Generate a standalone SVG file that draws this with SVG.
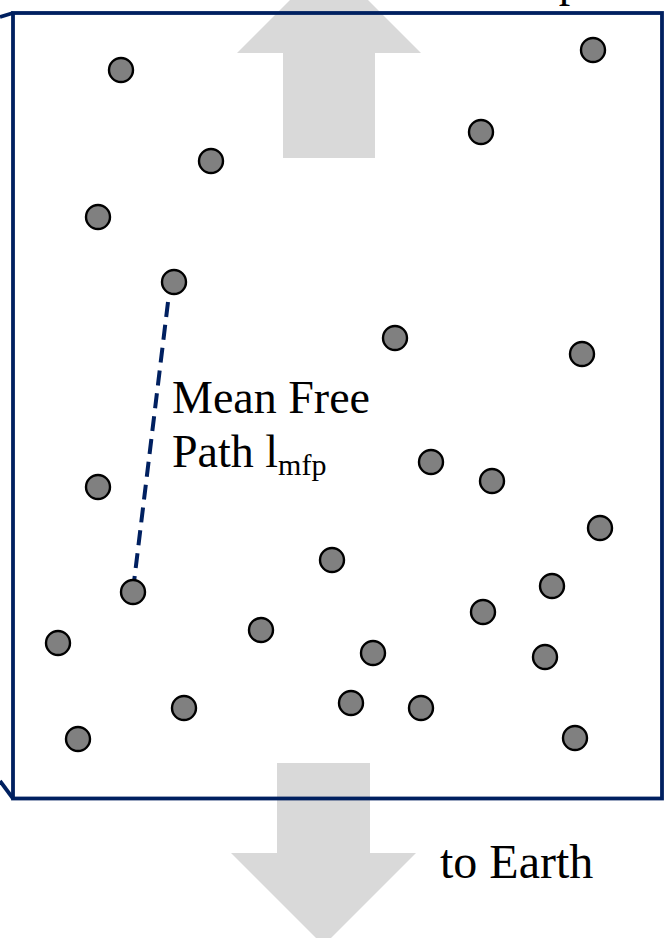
<svg xmlns="http://www.w3.org/2000/svg" width="666" height="938" viewBox="0 0 666 938">
  <style>
    .flow { fill: #d9d9d9; }
    .frame { fill: none; stroke: #002060; stroke-width: 3.8; }
    .mol { fill: #808080; stroke: #000; stroke-width: 2.4; }
    .path { stroke: #002060; stroke-width: 4; stroke-dasharray: 15 8; fill: none; }
    .lbl { font-family: "Liberation Serif", "Times New Roman", serif; font-size: 46px; fill: #000; }
    .sub { font-size: 30px; }
  </style>
  <rect width="666" height="938" fill="#fff"/>

  <!-- flow arrows: upward to space, downward to Earth -->
  <g id="arrow-up">
    <polygon class="flow" points="283,158 375,158 375,53 421,53 329,-39 237,53 283,53"/>
  </g>
  <g id="arrow-down">
    <polygon class="flow" points="277,763 370,763 370,853 416,853 323.5,945.5 231,853 277,853"/>
  </g>

  <!-- gas volume -->
  <g id="volume">
    <rect class="frame" x="13" y="13" width="649" height="785.5"/>
    <line class="frame" x1="0" y1="17" x2="13" y2="13"/>
    <line class="frame" x1="0" y1="781" x2="13" y2="798.5"/>
  </g>

  <!-- free path between two collisions -->
  <g id="connectors">
    <line class="path" x1="168" y1="302" x2="134" y2="582"/>
  </g>

  <!-- molecules -->
  <g id="molecules">
    <circle id="m1" class="mol" cx="121" cy="70" r="12"/>
    <circle id="m2" class="mol" cx="593" cy="50" r="12"/>
    <circle id="m3" class="mol" cx="481" cy="132" r="12"/>
    <circle id="m4" class="mol" cx="211" cy="161" r="12"/>
    <circle id="m5" class="mol" cx="98" cy="217" r="12"/>
    <circle id="m6" class="mol" cx="174" cy="282" r="12"/>
    <circle id="m7" class="mol" cx="395" cy="338" r="12"/>
    <circle id="m8" class="mol" cx="582" cy="354" r="12"/>
    <circle id="m9" class="mol" cx="98" cy="487" r="12"/>
    <circle id="m10" class="mol" cx="431" cy="462" r="12"/>
    <circle id="m11" class="mol" cx="492" cy="481" r="12"/>
    <circle id="m12" class="mol" cx="600" cy="528" r="12"/>
    <circle id="m13" class="mol" cx="332" cy="560" r="12"/>
    <circle id="m14" class="mol" cx="552" cy="586" r="12"/>
    <circle id="m15" class="mol" cx="133" cy="592" r="12"/>
    <circle id="m16" class="mol" cx="483" cy="612" r="12"/>
    <circle id="m17" class="mol" cx="58" cy="643" r="12"/>
    <circle id="m18" class="mol" cx="261" cy="630" r="12"/>
    <circle id="m19" class="mol" cx="373" cy="653" r="12"/>
    <circle id="m20" class="mol" cx="545" cy="657" r="12"/>
    <circle id="m21" class="mol" cx="184" cy="708" r="12"/>
    <circle id="m22" class="mol" cx="351" cy="703" r="12"/>
    <circle id="m23" class="mol" cx="421" cy="708" r="12"/>
    <circle id="m24" class="mol" cx="78" cy="739" r="12"/>
    <circle id="m25" class="mol" cx="575" cy="738" r="12"/>
  </g>

  <!-- labels -->
  <g id="labels">
    <text class="lbl" x="486" y="-4">to Space</text>
    <text class="lbl" x="172" y="413">Mean Free</text>
    <text class="lbl" x="172" y="467">Path l<tspan class="sub" dy="8">mfp</tspan></text>
    <text class="lbl" x="440" y="878" style="font-size:48px">to Earth</text>
  </g>
</svg>
